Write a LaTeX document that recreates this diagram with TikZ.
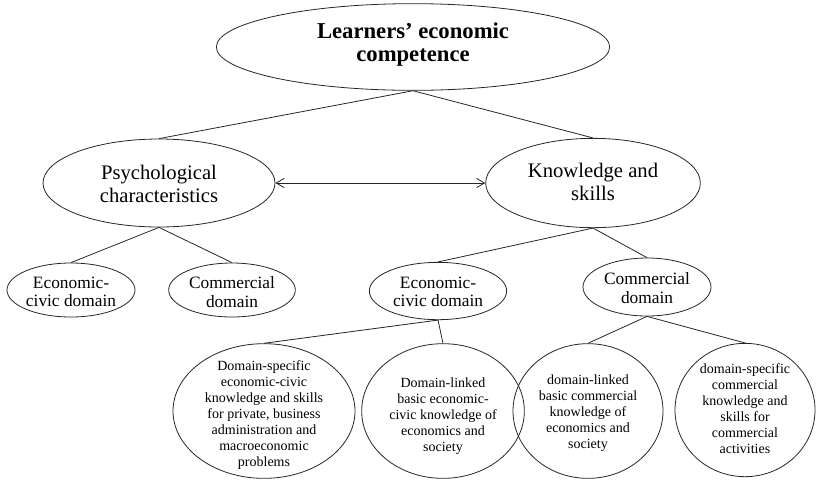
\documentclass[tikz,border=0pt]{standalone}
\usepackage{fontspec}
\setmainfont{Liberation Serif}
\usetikzlibrary{shapes.geometric,arrows.meta}

\begin{document}
\begin{tikzpicture}[x=0.75pt, y=-0.75pt,
		oval/.style={ellipse, draw=black!85, line width=0.6pt, inner sep=0pt},
		bigtext/.style={align=center, font=\fontsize{15.5}{17.3}\selectfont},
		midtext/.style={align=center, font=\fontsize{13}{13.6}\selectfont},
		smalltext/.style={align=center, font=\fontsize{10.5}{12}\selectfont},
		link/.style={draw=black!85, line width=0.6pt}]
		\useasboundingbox (0, 0) rectangle (816, 480);
		% ellipses
		\node[oval, minimum width=295pt, minimum height=65pt] (competence) at (413, 47) {};
		\node[oval, minimum width=174pt, minimum height=66pt] (psych) at (159, 183) {};
		\node[oval, minimum width=161pt, minimum height=67pt] (knowledge) at (593, 183) {};
		\node[oval, minimum width=96pt, minimum height=40.5pt] (psyciv) at (71, 290) {};
		\node[oval, minimum width=95pt, minimum height=40.5pt] (psycom) at (232, 290) {};
		\node[oval, minimum width=103pt, minimum height=43pt] (knowciv) at (438, 291) {};
		\node[oval, minimum width=96pt, minimum height=43.5pt] (knowcom) at (647, 287) {};
		\node[oval, minimum width=136.5pt, minimum height=101pt] (civspecific) at (264, 411) {};
		\node[oval, minimum width=122pt, minimum height=101pt] (civlinked) at (443, 411) {};
		\node[oval, minimum width=112.5pt, minimum height=101pt] (comlinked) at (588, 411) {};
		\node[oval, minimum width=105pt, minimum height=100pt] (comspecific) at (745, 410) {};
		% texts
		\node[align=center, font=\fontsize{17}{17.2}\selectfont\bfseries] (competencet) at (413, 45) {Learners’ economic \\ competence};
		\node[bigtext] (psycht) at (159, 184) {Psychological \\ characteristics};
		\node[bigtext] (knowledget) at (593, 182) {Knowledge and \\ skills};
		\node[midtext] (psycivt) at (71, 292) {Economic- \\ civic domain};
		\node[midtext] (psycomt) at (232, 292) {Commercial \\ domain};
		\node[midtext] (knowcivt) at (438, 292) {Economic- \\ civic domain};
		\node[midtext] (knowcomt) at (647, 288) {Commercial \\ domain};
		\node[smalltext] (civspecifict) at (264, 415) {Domain-specific \\ economic-civic \\ knowledge and skills \\ for private, business \\ administration and \\ macroeconomic \\ problems};
		\node[smalltext] (civlinkedt) at (443, 416) {Domain-linked \\ basic economic- \\ civic knowledge of \\ economics and \\ society};
		\node[smalltext] (comlinkedt) at (588, 413) {domain-linked \\ basic commercial \\ knowledge of \\ economics and \\ society};
		\node[smalltext] (comspecifict) at (745, 409) {domain-specific \\ commercial \\ knowledge and \\ skills for \\ commercial \\ activities};
		% connectors
		\draw[link] (competence.south) -- (psych.north);
		\draw[link] (competence.south) -- (knowledge.north);
		\draw[link, {Straight Barb[length=6pt, width=7pt]}-{Straight Barb[length=6pt, width=7pt]}] (psych.east) -- (knowledge.west);
		\draw[link] (psych.south) -- (psyciv.north);
		\draw[link] (psych.south) -- (psycom.north);
		\draw[link] (knowledge.south) -- (knowciv.north);
		\draw[link] (knowledge.south) -- (knowcom.north);
		\draw[link] (knowciv.south) -- (civspecific.north);
		\draw[link] (knowciv.south) -- (civlinked.north);
		\draw[link] (knowcom.south) -- (comlinked.north);
		\draw[link] (knowcom.south) -- (comspecific.north);
	\end{tikzpicture}
\end{document}
